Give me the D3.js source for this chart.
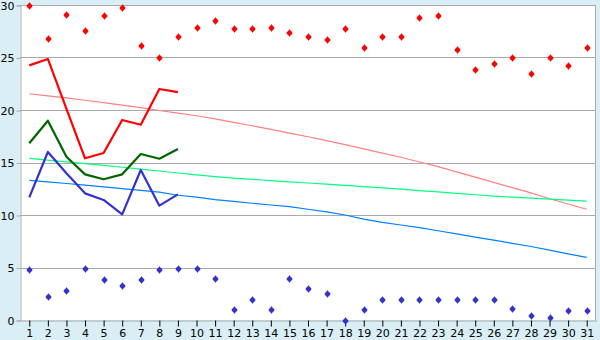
<!DOCTYPE html>
<html>
<head>
<meta charset="utf-8">
<script src="https://cdn.jsdelivr.net/npm/d3@7"></script>
<style>
  body { margin: 0; background: #d9eef5; }
  text { font-family: "DejaVu Sans", sans-serif; font-size: 11px; fill: #000; }
</style>
</head>
<body>
<div id="chart"></div>
<script>
// days of the month
const days = d3.range(1, 32);
const yTicks = [0, 5, 10, 15, 20, 25, 30];

// markers
const highPoints = [30, 26.9, 29.1, 27.6, 29.0, 29.8, 26.15, 25.0, 27.0, 27.9,
  28.55, 27.8, 27.8, 27.9, 27.4, 27.0, 26.8, 27.8, 25.97, 27.0,
  27.0, 28.9, 29.0, 25.8, 23.9, 24.45, 25.0, 23.5, 25.0, 24.26, 25.97];
const lowPoints = [4.83, 2.26, 2.83, 5.0, 3.88, 3.3, 3.88, 4.83, 5.0, 5.0,
  3.97, 1.02, 1.97, 1.02, 3.97, 3.02, 2.54, 0, 1.02, 1.97,
  1.97, 1.97, 1.97, 1.97, 1.97, 1.97, 1.11, 0.44, 0.25, 1.0, 1.0];

// thick lines, days 1-9
const redLine = [24.25, 24.86, 20.1, 15.4, 15.9, 19.05, 18.6, 22.0, 21.7];
const greenLine = [16.83, 18.98, 15.55, 13.87, 13.4, 13.87, 15.81, 15.36, 16.29];
const blueLine = [11.68, 16.0, 13.97, 12.06, 11.43, 10.06, 14.29, 10.89, 11.97];

// thin trend lines
const redTrend = [21.55, 21.35, 21.15, 20.93, 20.7, 20.47, 20.22, 19.95, 19.7, 19.45,
  19.15, 18.82, 18.5, 18.15, 17.8, 17.45, 17.08, 16.7, 16.3, 15.9,
  15.5, 15.05, 14.6, 14.1, 13.6, 13.1, 12.6, 12.1, 11.55, 11.05, 10.55];
const greenTrend = [15.4, 15.23, 15.06, 14.9, 14.73, 14.55, 14.37, 14.19, 14.0, 13.82,
  13.66, 13.52, 13.39, 13.27, 13.16, 13.05, 12.94, 12.83, 12.71, 12.59,
  12.46, 12.33, 12.2, 12.06, 11.93, 11.8, 11.7, 11.6, 11.51, 11.42, 11.33];
const blueTrend = [13.3, 13.15, 13.0, 12.84, 12.68, 12.52, 12.35, 12.17, 11.88, 11.7,
  11.47, 11.3, 11.12, 10.95, 10.8, 10.55, 10.3, 10.0, 9.6, 9.3,
  9.05, 8.8, 8.5, 8.2, 7.9, 7.6, 7.3, 7.0, 6.65, 6.3, 5.97];

let width = 600, height = 340;
let margin = { top: 5, right: 4, bottom: 20, left: 20 };

let svg = d3.select('#chart')
  .append('svg')
  .attr('width', width)
  .attr('height', height)
  .style('display', 'block')
  .style('background', '#d9eef5');

let xScale = d3.scaleBand()
  .domain(days)
  .range([margin.left, width - margin.right]);

let yScale = d3.scaleLinear()
  .domain([0, 30])
  .range([height - margin.bottom, margin.top]);

const cx = d => xScale(d) + xScale.bandwidth() / 2;

// plot background
svg.append('rect')
  .attr('x', margin.left)
  .attr('y', margin.top)
  .attr('width', width - margin.right - margin.left)
  .attr('height', height - margin.bottom - margin.top)
  .attr('fill', 'white');

// grid lines
svg.append('g')
  .selectAll('line')
  .data(yTicks.filter(t => t > 0))
  .enter()
  .append('line')
  .attr('x1', margin.left)
  .attr('x2', width - margin.right - 0.5)
  .attr('y1', d => Math.round(yScale(d)) + 0.5)
  .attr('y2', d => Math.round(yScale(d)) + 0.5)
  .attr('stroke', '#aaaaaa');

// right border
svg.append('line')
  .attr('x1', width - margin.right - 0.5)
  .attr('x2', width - margin.right - 0.5)
  .attr('y1', margin.top)
  .attr('y2', height - margin.bottom)
  .attr('stroke', '#aaaaaa');

// y axis
let yaxis = svg.append('g')
  .attr('transform', `translate(${margin.left + 0.5},0.5)`)
  .call(d3.axisLeft(yScale).tickValues(yTicks).tickSize(4).tickPadding(2));
yaxis.select('.domain').attr('stroke', '#aaaaaa');
yaxis.selectAll('.tick line').attr('stroke', '#aaaaaa');
yaxis.selectAll('text').style('font-size', '11px').attr('dy', '0.35em');

// x axis
let xaxis = svg.append('g')
  .attr('transform', `translate(0.5,${height - margin.bottom + 0.5})`)
  .call(d3.axisBottom(xScale).tickSize(6).tickPadding(3).tickSizeOuter(0));
xaxis.select('.domain').attr('stroke', '#aaaaaa');
xaxis.selectAll('.tick line').attr('stroke', '#000');
xaxis.selectAll('text').style('font-size', '11px');

// trend lines
const trendLine = d3.line()
  .x((d, i) => cx(days[i]))
  .y(d => yScale(d));

[[redTrend, '#ff8080'], [greenTrend, '#00ff80'], [blueTrend, '#0080ff']].forEach(([vals, col]) => {
  svg.append('path')
    .datum(vals)
    .attr('d', trendLine)
    .attr('fill', 'none')
    .attr('stroke', col)
    .attr('stroke-width', 1.2);
});

// thick lines
[[redLine, '#ff0000'], [greenLine, '#006600'], [blueLine, '#3333cc']].forEach(([vals, col]) => {
  svg.append('path')
    .datum(vals)
    .attr('d', trendLine)
    .attr('fill', 'none')
    .attr('stroke', col)
    .attr('stroke-width', 2.2)
    .attr('stroke-linejoin', 'round');
});

// small diamond-plus markers (5x5 px core with 1px arm tips)
const marker = 'M-0.5,-3h1v1h1v1h1v1h0.5v1h-0.5v1h-1v1h-1v1h-1v-1h-1v-1h-1v-1h-0.5v-1h0.5v-1h1v-1h1z';

[[highPoints, '#ff0000'], [lowPoints, '#3333cc']].forEach(([vals, col]) => {
  svg.append('g')
    .selectAll('path')
    .data(vals)
    .enter()
    .append('path')
    .attr('d', marker)
    .attr('transform', (d, i) => `translate(${Math.round(cx(days[i])) + 0.5},${Math.round(yScale(d)) + 0.5})`)
    .attr('fill', col);
});
</script>
</body>
</html>
